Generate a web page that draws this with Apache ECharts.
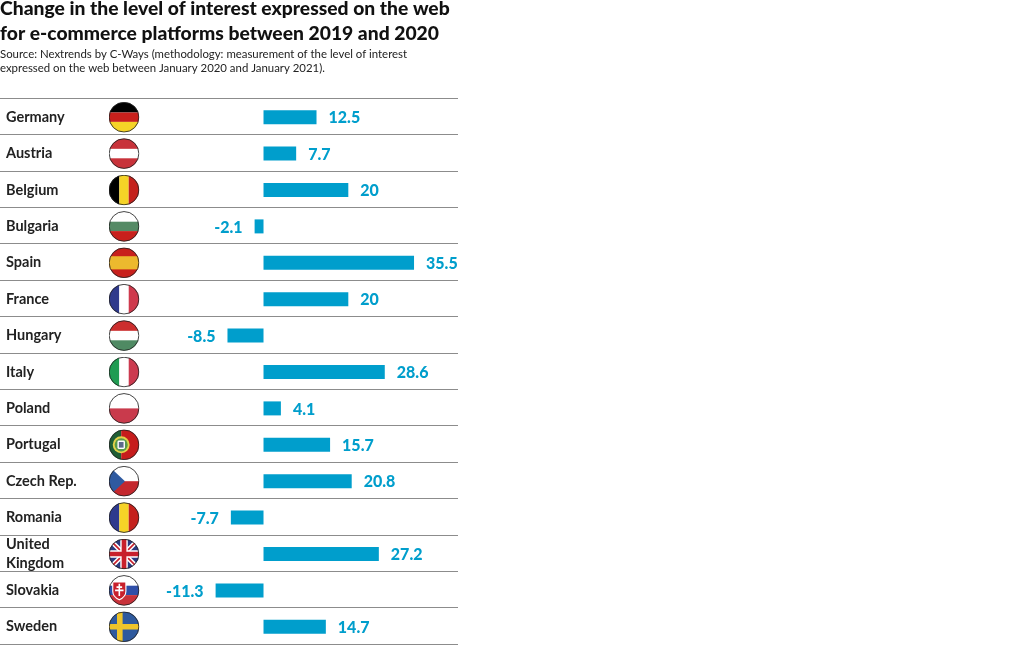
<!DOCTYPE html>
<html><head><meta charset="utf-8">
<style>html,body{margin:0;padding:0;background:#fff}#c{width:1020px;height:647px}</style>
<script src="https://cdn.jsdelivr.net/npm/echarts@6/dist/echarts.min.js"></script></head>
<body><div id="c"></div>
<script>
const countries = ['Germany','Austria','Belgium','Bulgaria','Spain','France','Hungary','Italy','Poland','Portugal','Czech Rep.','Romania','United\nKingdom','Slovakia','Sweden'];
const changes = [12.5,7.7,20,-2.1,35.5,20,-8.5,28.6,4.1,15.7,20.8,-7.7,27.2,-11.3,14.7];
const flagColumn = -32.9;
const titleText = 'Change in the level of interest expressed on the web\nfor e-commerce platforms between 2019 and 2020';
const sourceText = 'Source: Nextrends by C-Ways (methodology: measurement of the level of interest\nexpressed on the web between January 2020 and January 2021).';

const h3 = (a,b,c) => `<rect width="32" height="11" fill="${a}"/><rect y="11" width="32" height="10" fill="${b}"/><rect y="21" width="32" height="11" fill="${c}"/>`;
const v3 = (a,b,c) => `<rect width="11" height="32" fill="${a}"/><rect x="11" width="10" height="32" fill="${b}"/><rect x="21" width="11" height="32" fill="${c}"/>`;
const flagArt = {
 'Germany': h3('#000','#c8201c','#f5d327'),
 'Austria': h3('#c8323a','#fff','#c8323a'),
 'Belgium': v3('#000','#f5d327','#c4211c'),
 'Bulgaria': h3('#fff','#558a65','#c8201c'),
 'Spain': '<rect width="32" height="32" fill="#c8201c"/><rect y="9" width="32" height="14" fill="#ecb92e"/>',
 'France': v3('#2f3a8c','#fff','#cf3a4d'),
 'Hungary': h3('#cc2e2e','#fff','#4f8a63'),
 'Italy': v3('#1f9c52','#fff','#cc3a4f'),
 'Poland': '<rect width="32" height="16" fill="#fff"/><rect y="16" width="32" height="16" fill="#c93a4c"/>',
 'Portugal': '<rect width="13" height="32" fill="#1f5e35"/><rect x="13" width="19" height="32" fill="#c61c1c"/><circle cx="13" cy="16" r="9" fill="#e3d24a"/><circle cx="13" cy="16" r="7" fill="#5a9a4a"/><rect x="9" y="11.5" width="8" height="9" rx="1.5" fill="#fff"/><rect x="10.5" y="13" width="5" height="6" fill="#5c6a8c"/>',
 'Czech Rep.': '<rect width="32" height="16" fill="#fff"/><rect y="16" width="32" height="16" fill="#c4282e"/><path d="M0 0L17 16L0 32Z" fill="#2f5aa0"/>',
 'Romania': v3('#2e3a8e','#f6d327','#c4211c'),
 'United\nKingdom': '<rect width="32" height="32" fill="#2b3a80"/><path d="M0 0L32 32M32 0L0 32" stroke="#fff" stroke-width="5"/><path d="M0 0L32 32M32 0L0 32" stroke="#c8202c" stroke-width="1.8"/><path d="M16 0V32M0 16H32" stroke="#fff" stroke-width="8"/><path d="M16 0V32M0 16H32" stroke="#c8202c" stroke-width="5"/>',
 'Slovakia': h3('#fff','#2f4fa8','#c8323a')+'<path d="M4 7H18V17Q18 23 11 26Q4 23 4 17Z" fill="#c8202c" stroke="#fff" stroke-width="1.2"/><path d="M11 9V22M8 12.5H14M6.5 16H15.5" stroke="#fff" stroke-width="1.7"/>',
 'Sweden': '<rect width="32" height="32" fill="#2f5a9e"/><path d="M11.5 0V32M0 16H32" stroke="#f0c52a" stroke-width="6"/>'
};
const flagUri = name => 'image://data:image/svg+xml,' + encodeURIComponent(
 `<svg xmlns="http://www.w3.org/2000/svg" width="128" height="128" viewBox="-0.5 -0.5 33 33"><defs><clipPath id="k"><circle cx="16" cy="16" r="16"/></clipPath></defs><g clip-path="url(#k)">${flagArt[name]}</g><circle cx="16" cy="16" r="15.8" fill="none" stroke="#222" stroke-width="0.9"/></svg>`);

const chart = echarts.init(document.getElementById('c'), null, {renderer:'canvas'});
const blue = '#009ecc';
const font = 'Lato';
const hiddenX = {type:'value',min:-62.15,max:45.87,show:false};
chart.setOption({
 animation:false,
 backgroundColor:'#fff',
 title:[
  {text:titleText,left:0,top:-4,padding:0,textStyle:{fontFamily:font,fontSize:19.3,fontWeight:900,color:'#111',lineHeight:25}},
  {text:sourceText,left:0,top:47,padding:0,textStyle:{fontFamily:font,fontSize:11.4,fontWeight:400,color:'#222',lineHeight:14.5}}
 ],
 grid:[
  {left:0,top:98,width:458,height:546},
  {left:0,top:99,width:458,height:546}
 ],
 xAxis:[{...hiddenX,gridIndex:0},{...hiddenX,gridIndex:1}],
 yAxis:[
  {gridIndex:0,type:'category',data:countries,inverse:true,
   axisLine:{show:false},axisTick:{show:false},axisLabel:{show:false},
   splitLine:{show:true,lineStyle:{color:'#8c8c8c',width:1}}},
  {gridIndex:1,type:'category',data:countries,inverse:true,
   axisLine:{show:false},axisTick:{show:false},splitLine:{show:false},
   axisLabel:{inside:true,interval:0,margin:6,align:'left',padding:[2,0,0,0],fontFamily:font,fontSize:14.5,fontWeight:700,color:'#222',lineHeight:19}}
 ],
 series:[
  {type:'bar',xAxisIndex:1,yAxisIndex:1,barWidth:14,z:2,silent:true,itemStyle:{color:blue},
   data:changes.map(v=>({value:v,label:{position:v<0?'left':'right'}})),
   label:{show:true,distance:12,fontFamily:font,fontSize:16,fontWeight:900,color:blue,offset:[0,1]}},
  {type:'scatter',xAxisIndex:1,yAxisIndex:1,z:3,silent:true,symbolSize:31,itemStyle:{opacity:1},
   data:countries.map(n=>({value:[flagColumn,n],symbol:flagUri(n)}))}
 ]
});
</script></body></html>
